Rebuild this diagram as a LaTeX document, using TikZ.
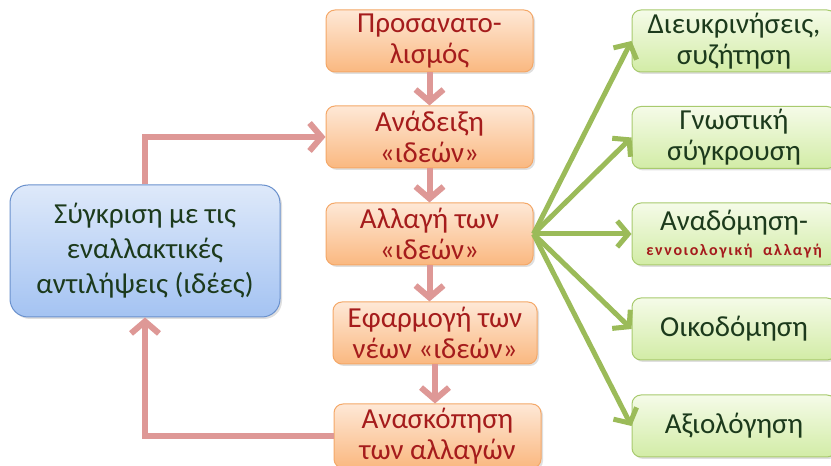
\documentclass[tikz,border=0pt]{standalone}
\usepackage{fontspec}
\setmainfont{Carlito}
\newfontfamily\notefont[LetterSpace=10]{Carlito}
\usetikzlibrary{arrows.meta,shadows}
\definecolor{orangetop}{RGB}{254,232,214}
\definecolor{orangebot}{RGB}{250,184,128}
\definecolor{orangeline}{RGB}{244,168,104}
\definecolor{greentop}{RGB}{245,251,232}
\definecolor{greenbot}{RGB}{210,236,166}
\definecolor{greenline}{RGB}{168,202,110}
\definecolor{bluetop}{RGB}{222,233,250}
\definecolor{bluebot}{RGB}{164,195,242}
\definecolor{blueline}{RGB}{106,145,205}
\definecolor{stagetext}{RGB}{165,28,28}
\definecolor{leaftext}{RGB}{28,58,28}
\definecolor{loopcol}{RGB}{222,152,150}
\definecolor{forkcol}{RGB}{155,187,89}

\begin{document}
\begin{tikzpicture}[x=1pt,y=1pt,
  box/.style={line width=1pt, align=center, font=\fontsize{29}{31}\selectfont,
    drop shadow={opacity=0.25, shadow xshift=2pt, shadow yshift=-2pt}},
  stage/.style={box, draw=orangeline, rounded corners=9pt, top color=orangetop, bottom color=orangebot,
    minimum width=207pt, minimum height=62pt, text=stagetext, inner sep=0pt},
  leaf/.style={box, draw=greenline, rounded corners=9pt, top color=greentop, bottom color=greenbot,
    minimum width=204pt, minimum height=62pt, text=leaftext, inner sep=0pt},
  compare/.style={box, draw=blueline, rounded corners=18pt, top color=bluetop, bottom color=bluebot,
    minimum width=270pt, minimum height=132pt, text=leaftext, font=\fontsize{29}{35}\selectfont},
  loop/.style={draw=loopcol, line width=6pt, -{Straight Barb[length=12pt,width=28pt]}},
  fork/.style={draw=forkcol, line width=5pt, -{Straight Barb[length=11pt,width=26pt]}}]
\useasboundingbox (0,0) rectangle (831,466);

% main column
\node[stage] (pros) at (429.5,425) {Προσανατο-\\λισμός};
\node[stage] (anad) at (429.5,329) {Ανάδειξη\\«ιδεών»};
\node[stage] (allag) at (429.5,232) {Αλλαγή των\\«ιδεών»};
\node[stage, minimum width=204pt] (efarm) at (435,133) {Εφαρμογή των\\νέων «ιδεών»};
\node[stage, minimum height=64pt] (anask) at (437.5,30) {Ανασκόπηση\\των αλλαγών};

% right column
\node[leaf] (diev) at (734,425) {Διευκρινήσεις,\\συζήτηση};
\node[leaf] (gnos) at (734,328.5) {Γνωστική\\σύγκρουση};
\node[leaf] (anadom) at (734,232) {Αναδόμηση-\\[-6pt]{\notefont\bfseries\fontsize{16}{18}\selectfont\color{stagetext}εννοιολογική\ \ αλλαγή}};
\node[leaf] (oiko) at (734,137) {Οικοδόμηση};
\node[leaf] (axio) at (734,40) {Αξιολόγηση};

% left box
\node[compare] (comp) at (145,215) {Σύγκριση με τις\\εναλλακτικές\\αντιλήψεις (ιδέες)};

\draw[loop] (pros) -- (anad);
\draw[loop] (anad) -- (allag);
\draw[loop] (allag.south) -- (allag.south |- efarm.north);
\draw[loop] (efarm.south) -- (efarm.south |- anask.north);
\draw[loop] (comp.north) |- (anad.west);
\draw[loop] (anask.west) -| (comp.south);

\foreach \leafname in {diev,gnos,anadom,oiko,axio}
  \draw[fork] (allag.east) -- (\leafname.west);

\end{tikzpicture}
\end{document}
